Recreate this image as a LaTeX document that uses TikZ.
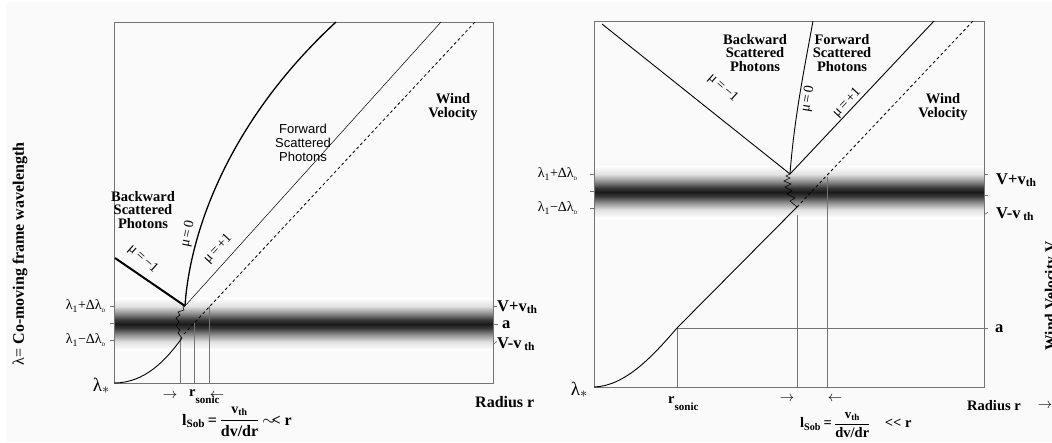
\documentclass[tikz,border=0pt]{standalone}
\usepackage{amsmath}
\usepackage{fontspec}
\setmainfont{Liberation Serif}
\newfontfamily\helvfont{Liberation Sans}
\usetikzlibrary{arrows.meta}

\pgfdeclareverticalshading{bandfade}{100bp}{color(0bp)=(white); color(25bp)=(white);
  color(33bp)=(black!12); color(40bp)=(black!45); color(46bp)=(black!78);
  color(50bp)=(black!90); color(54bp)=(black!78); color(60bp)=(black!45);
  color(67bp)=(black!12); color(75bp)=(white); color(100bp)=(white)}

\begin{document}
\begin{tikzpicture}[x=1pt,y=-1pt,
  every node/.style={inner sep=0pt},
  boxline/.style={draw=black!55,line width=.6pt},
  guide/.style={draw=black!55,line width=.5pt},
  photline/.style={draw,line width=.9pt},
  wind/.style={draw,line width=.8pt,dash pattern=on 3pt off 2.5pt},
  lbl/.style={font=\bfseries\fontsize{14.5}{13.2}\selectfont,align=center},
  mulbl/.style={font=\fontsize{14}{14}\selectfont},
  lamlbl/.style={font=\fontsize{14}{14}\selectfont,anchor=east},
  vlbl/.style={font=\bfseries\fontsize{16.5}{17}\selectfont,anchor=west},
  bigbf/.style={font=\bfseries\fontsize{16}{17}\selectfont,anchor=west},
  smallbf/.style={font=\bfseries\fontsize{14.5}{15}\selectfont,anchor=west},
  arr/.style={font=\fontsize{15}{15}\selectfont}]
 \useasboundingbox (0,0) rectangle (1052,442);
 \fill[black!2] (6,2) rectangle (1052,442);

 % left panel: photons leave the resonance zone
 \shade[shading=bandfade] (114,298) rectangle (493,350);
 \draw[boxline] (114,22) rectangle (493,383);
 \foreach \y in {306,323,340} \draw[boxline] (110,\y) -- (114,\y);
 \draw[boxline] (493,306) -- (497,306);
 \draw[boxline] (493,324) -- (498,324);
 \draw[boxline] (493,345) -- (497,341);
 \draw[guide] (180,383) -- (180,337);
 \draw[guide] (194,383) -- (194,323);
 \draw[guide] (209,383) -- (209,306);
 \draw[photline] (114,383) .. controls (145,383) and (166,360) .. (182,338);
 \draw[line width=.6pt] (182,338) -- (178,333) -- (180,330) -- (176,326) -- (179,322)
   -- (176,318) -- (180,315) -- (178,312) -- (184,310) -- (183,307) -- (185,306);
 \draw[wind] (184,334) -- (475,22);
 \draw[line width=.5pt] (185,306) -- (441,22);
 \draw[line width=1.3pt] (185,306) .. controls (190,230) and (230,120) .. (336,22);
 \draw[line width=2pt] (115,258) -- (185,306);

 \node[lbl] (backL) at (143,210) {Backward\\Scattered\\Photons};
 \node[font=\helvfont\fontsize{13}{14}\selectfont,align=center] (fwdL) at (303,143)
   {Forward\\Scattered\\Photons};
 \node[lbl] (windL) at (453,107) {Wind\\Velocity};
 \node[mulbl,rotate=-42] (muaL) at (143,259) {μ\,=\,−1};
 \node[mulbl,rotate=78] (mubL) at (188,234) {μ\,=\,0};
 \node[mulbl,rotate=47] (mucL) at (218,249) {μ\,=\,+1};

 \node[lamlbl] (lpL) at (106,306) {λ\textsubscript{1}+Δλ\textsubscript{\tiny D}};
 \node[lamlbl] (lmL) at (106,340) {λ\textsubscript{1}−Δλ\textsubscript{\tiny D}};
 \node[font=\fontsize{19}{19}\selectfont,anchor=east] (lsL) at (110,386) {λ$_*$};
 \node[font=\bfseries\fontsize{16}{16}\selectfont,rotate=90] (ylbl) at (20,254)
   {\mdseries λ=\bfseries\ Co-moving frame wavelength};

 \node[vlbl] (vpL) at (497,307) {V+v\textsubscript{th}};
 \node[vlbl] (aL) at (502,325) {a};
 \node[vlbl] (vmL) at (497,344) {V-v\,\textsubscript{th}};

 \node[arr] (inL) at (170,396) {$\rightarrow$};
 \node[arr] (outL) at (217,396) {$\leftarrow$};
 \node[smallbf] (rsL) at (189,397)
   {r\raisebox{-7pt}{\fontsize{11}{11}\selectfont sonic}};
 \node[bigbf] (sobL) at (182,422)
   {l\textsubscript{Sob}\,=\,$\dfrac{\text{\fontsize{14}{14}\selectfont v\textsubscript{th}}}{\text{dv/dr}}$\,$\sim$\kern-4pt< r};
 \node[bigbf] (radL) at (475,402) {Radius r};

 % right panel: photons trapped in the resonance zone
 \shade[shading=bandfade] (594,166) rectangle (984,218);
 \draw[boxline] (594,21) rectangle (984,387);
 \foreach \y in {174,191,208} \draw[boxline] (590,\y) -- (594,\y);
 \draw[boxline] (984,174) -- (988,174);
 \draw[boxline] (984,195) -- (988,195);
 \draw[boxline] (984,215) -- (988,212);
 \draw[guide] (677,387) -- (677,328) -- (988,328);
 \draw[guide] (797,387) -- (797,215);
 \draw[guide] (827,387) -- (827,177);
 \draw[photline] (594,387) .. controls (625,386) and (652,357) .. (677,328) -- (797,207);
 \draw[line width=.6pt] (797,207) -- (790,201) -- (795,198) -- (787,194) -- (792,191)
   -- (785,187) -- (791,184) -- (784,181) -- (790,178) -- (786,176) -- (790,174);
 \draw[wind] (797,207) -- (973,21);
 \draw[photline] (790,174) -- (602,24);
 \draw[photline] (790,174) .. controls (794,120) and (804,70) .. (813,21);
 \draw[photline] (790,174) -- (934,21);

 \node[lbl] (backR) at (755,53) {Backward\\Scattered\\Photons};
 \node[lbl] (fwdR) at (842,53) {Forward\\Scattered\\Photons};
 \node[lbl] (windR) at (943,107) {Wind\\Velocity};
 \node[mulbl,rotate=-42] (muaR) at (723,88) {μ\,=\,−1};
 \node[mulbl,rotate=80] (mubR) at (808,99) {μ\,=\,0};
 \node[mulbl,rotate=47] (mucR) at (847,103) {μ\,=\,+1};

 \node[lamlbl] (lpR) at (578,174) {λ\textsubscript{1}+Δλ\textsubscript{\tiny D}};
 \node[lamlbl] (lmR) at (578,208) {λ\textsubscript{1}−Δλ\textsubscript{\tiny D}};
 \node[font=\fontsize{19}{19}\selectfont,anchor=east] (lsR) at (588,390) {λ$_*$};

 \node[vlbl] (vpR) at (996,180) {V+v\textsubscript{th}};
 \node[vlbl] (vmR) at (996,214) {V-v\,\textsubscript{th}};
 \node[vlbl] (aR) at (995,329) {a};
 \node[font=\bfseries\fontsize{15.5}{15.5}\selectfont,rotate=90] (yrlbl) at (1052,296)
   {Wind Velocity V};

 \node[smallbf] (rsR) at (668,404)
   {r\raisebox{-7pt}{\fontsize{11}{11}\selectfont sonic}};
 \node[arr] (inR) at (787,399) {$\rightarrow$};
 \node[arr] (outR) at (835,399) {$\leftarrow$};
 \node[smallbf] (sobR) at (800,425)
   {l\textsubscript{Sob}\,=\,$\dfrac{\text{\fontsize{13}{13}\selectfont v\textsubscript{th}}}{\text{dv/dr}}$\quad<{}< r};
 \node[smallbf] (radR) at (967,406) {Radius r};
 \node[arr] (radarr) at (1045,406) {$\rightarrow$};
\end{tikzpicture}
\end{document}
